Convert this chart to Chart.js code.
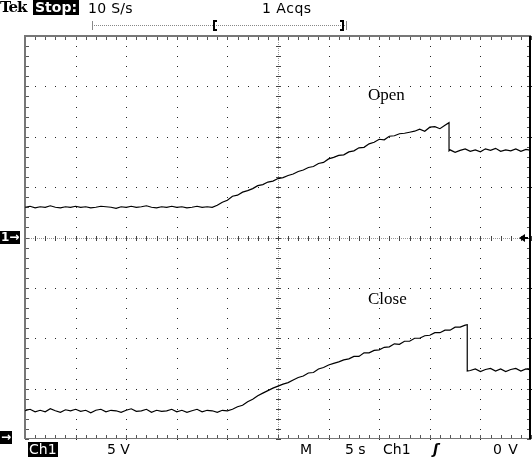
<!DOCTYPE html>
<html>
<head>
<meta charset="utf-8">
<script src="https://cdn.jsdelivr.net/npm/chart.js@4.4.0/dist/chart.umd.min.js"></script>
<style>
  html, body { margin: 0; padding: 0; background: #fff; }
  #wrap { position: relative; width: 532px; height: 457px; overflow: hidden;
          font-family: "DejaVu Sans", sans-serif; font-size: 14px; color: #000; }
  #scope { position: absolute; left: 0; top: 0; }
  .t { position: absolute; white-space: pre; line-height: 14px; }
  .inv { background: #000; color: #fff; }
  .serif { font-family: "Liberation Serif", serif; font-size: 17px; line-height: 17px; }
</style>
</head>
<body>
<div id="wrap">
  <canvas id="scope" width="532" height="457"></canvas>

  <!-- status bar -->
  <span class="t" style="left:0;top:0;font-weight:bold;font-family:'DejaVu Serif',serif;font-size:15px;line-height:15px;letter-spacing:-1px">Tek</span>
  <span class="t inv" style="left:33px;top:0;padding:0 2px;font-weight:bold;line-height:15px">Stop:</span>
  <span class="t" style="left:88px;top:1px;letter-spacing:0.3px">10 S/s</span>
  <span class="t" style="left:262px;top:1px;letter-spacing:0.5px">1 Acqs</span>

  <!-- trace labels -->
  <span class="t serif" style="left:368px;top:86px">Open</span>
  <span class="t serif" style="left:368px;top:290px">Close</span>

  <!-- ground markers -->
  <span class="t inv" style="left:0;top:231px;font-size:12px;line-height:13px;padding:0 1px;font-weight:bold">1→</span>
  <span class="t inv" style="left:0;top:431px;font-size:12px;line-height:13px;padding:0 1px;font-weight:bold">→</span>

  <!-- readout -->
  <span class="t inv" style="left:28px;top:442px;padding:0 1px;line-height:15px">Ch1</span>
  <span class="t" style="left:107px;top:442px">5 V</span>
  <span class="t" style="left:300px;top:442px">M</span>
  <span class="t" style="left:345px;top:442px">5 s</span>
  <span class="t" style="left:383px;top:442px">Ch1</span>
  <span class="t" style="left:433px;top:442px;font-style:italic;font-weight:bold">ʃ</span>
  <span class="t" style="left:493px;top:442px;letter-spacing:1px">0 V</span>
</div>

<script>
// sample times (s), 5 s/div, 10 div
const sampleTimes = [
  0, 0.5, 1, 1.5, 2, 2.5, 3, 3.5, 4, 4.5, 5, 5.5, 6, 6.5, 7, 7.5, 8, 8.5, 9, 9.5,
  10, 10.5, 11, 11.5, 12, 12.5, 13, 13.5, 14, 14.5, 15, 15.5, 16, 16.5, 17, 17.5, 18, 18.5, 19, 19.5,
  20, 20.5, 21, 21.5, 22, 22.5, 23, 23.5, 24, 24.5, 25, 25.5, 26, 26.5, 27, 27.5, 28, 28.5, 29, 29.5,
  30, 30.5, 31, 31.5, 32, 32.5, 33, 33.5, 34, 34.5, 35, 35.5, 36, 36.5, 37, 37.5, 38, 38.5, 39, 39.5,
  40, 40.5, 41, 41.5, 42, 42.5, 43, 43.5, 44, 44.5, 45, 45.5, 46, 46.5, 47, 47.5, 48, 48.5, 49, 49.5, 50
];

// Open trace (divisions from centre)
const openTimes = [...sampleTimes.slice(0, 84), 41.9, 41.9, ...sampleTimes.slice(84)];
const openValues = [
  0.60, 0.62, 0.59, 0.61, 0.60, 0.63, 0.60, 0.59, 0.61, 0.60,
  0.62, 0.60, 0.61, 0.59, 0.60, 0.62, 0.61, 0.60, 0.58, 0.61,
  0.60, 0.62, 0.60, 0.61, 0.63, 0.60, 0.59, 0.61, 0.60, 0.62,
  0.60, 0.61, 0.59, 0.60, 0.62, 0.60, 0.61, 0.60,
  0.64, 0.70, 0.74, 0.82, 0.84, 0.90, 0.93, 0.97, 1.03, 1.05, 1.10, 1.12, 1.17, 1.19, 1.23, 1.26,
  1.31, 1.34, 1.39, 1.41, 1.47, 1.49, 1.56, 1.59, 1.63, 1.64,
  1.70, 1.72, 1.78, 1.79, 1.86, 1.89, 1.95, 1.94, 2.01, 2.02,
  2.06, 2.07, 2.09, 2.11, 2.15, 2.11, 2.19, 2.20, 2.16, 2.23,
  2.28, 1.72,
  1.74, 1.69, 1.73, 1.76, 1.71, 1.74, 1.70, 1.76, 1.73, 1.77, 1.71, 1.74, 1.72, 1.76, 1.71, 1.75, 1.73
];

// Close trace
const closeTimes = [...sampleTimes.slice(0, 88), 43.7, 43.7, ...sampleTimes.slice(88)];
const closeValues = [
  -3.44, -3.41, -3.46, -3.43, -3.46, -3.40, -3.44, -3.47, -3.42, -3.44,
  -3.41, -3.45, -3.43, -3.48, -3.43, -3.41, -3.46, -3.43, -3.44, -3.47,
  -3.43, -3.40, -3.45, -3.44, -3.41, -3.47, -3.43, -3.45, -3.44, -3.41,
  -3.46, -3.43, -3.47, -3.44, -3.41, -3.46, -3.43, -3.44, -3.47, -3.43,
  -3.44,
  -3.41, -3.36, -3.33, -3.26, -3.21, -3.14, -3.09, -3.04, -2.99, -2.95,
  -2.91, -2.88, -2.83, -2.78, -2.75, -2.69, -2.68, -2.61, -2.58,
  -2.53, -2.50, -2.47, -2.43, -2.41, -2.36, -2.36, -2.29, -2.29, -2.24,
  -2.23, -2.18, -2.17, -2.11, -2.12, -2.06, -2.06, -2.00, -2.00, -1.95,
  -1.94, -1.89, -1.89, -1.84, -1.84, -1.78, -1.78, -1.74,
  -1.73, -2.65,
  -2.64, -2.61, -2.66, -2.62, -2.60, -2.65, -2.61, -2.66, -2.62, -2.60, -2.65, -2.61, -2.63
];

const xDivs = [0, 5, 10, 15, 20, 25, 30, 35, 40, 45, 50];
const yDivs = [-4, -3, -2, -1, 0, 1, 2, 3, 4];

function pts(ts, vs) {
  return ts.map((t, i) => ({ x: t, y: vs[i] }));
}

// oscilloscope graticule
const graticule = {
  id: 'graticule',
  beforeDatasetsDraw(chart) {
    const { ctx, chartArea: a, scales: { x, y } } = chart;
    ctx.save();
    const xMinor = [], yMinor = [];
    for (let i = 0; i <= 50; i++) xMinor.push(Math.round(x.getPixelForValue(i)));
    for (let i = 0; i <= 40; i++) yMinor.push(Math.round(y.getPixelForValue(-4 + i * 0.2)));

    // dotted division lines
    ctx.fillStyle = '#222';
    xDivs.slice(1, -1).forEach(v => {
      if (v === 25) return;
      const px = Math.round(x.getPixelForValue(v));
      yMinor.forEach(py => ctx.fillRect(px, py, 1, 1));
    });
    yDivs.slice(1, -1).forEach(v => {
      if (v === 0) return;
      const py = Math.round(y.getPixelForValue(v));
      xMinor.forEach(px => ctx.fillRect(px, py, 1, 1));
    });

    // centre axes
    const cx = Math.round(x.getPixelForValue(25));
    const cy = Math.round(y.getPixelForValue(0));
    ctx.fillStyle = '#999';
    for (let py = a.top; py < a.bottom; py += 2) ctx.fillRect(cx, py, 1, 1);
    for (let px = a.left; px < a.right; px += 2) ctx.fillRect(px, cy, 1, 1);
    ctx.fillStyle = '#444';
    yMinor.forEach(py => ctx.fillRect(cx - 2, py, 5, 1));
    xMinor.forEach(px => ctx.fillRect(px, cy - 2, 1, 5));

    // edge ticks
    ctx.fillStyle = '#555';
    xMinor.forEach(px => {
      ctx.fillRect(px, a.top, 1, 4);
      ctx.fillRect(px, a.bottom - 4, 1, 4);
    });
    yMinor.forEach(py => {
      ctx.fillRect(a.left, py, 4, 1);
      ctx.fillRect(a.right - 4, py, 4, 1);
    });

    // frame
    ctx.strokeStyle = '#777';
    ctx.lineWidth = 2;
    ctx.beginPath();
    ctx.moveTo(a.left, a.bottom);
    ctx.lineTo(a.left, a.top);
    ctx.lineTo(a.right, a.top);
    ctx.stroke();
    ctx.lineWidth = 1;
    ctx.beginPath();
    ctx.moveTo(a.left, a.bottom - 0.5);
    ctx.lineTo(a.right, a.bottom - 0.5);
    ctx.stroke();
    ctx.strokeStyle = '#000';
    ctx.lineWidth = 2;
    ctx.beginPath();
    ctx.moveTo(a.right - 1, a.top);
    ctx.lineTo(a.right - 1, a.bottom);
    ctx.stroke();

    // record bar
    ctx.strokeStyle = '#888';
    ctx.lineWidth = 1;
    ctx.setLineDash([1, 1]);
    ctx.beginPath();
    ctx.moveTo(92, 25.5);
    ctx.lineTo(346, 25.5);
    ctx.stroke();
    ctx.setLineDash([]);
    ctx.fillStyle = '#888';
    ctx.fillRect(92, 21, 1, 9);
    ctx.fillRect(346, 21, 1, 9);
    ctx.fillStyle = '#000';
    ctx.fillRect(213, 20, 2, 11);
    ctx.fillRect(213, 20, 4, 2);
    ctx.fillRect(213, 29, 4, 2);
    ctx.fillRect(342, 20, 2, 11);
    ctx.fillRect(340, 20, 4, 2);
    ctx.fillRect(340, 29, 4, 2);

    // trigger level arrow
    ctx.beginPath();
    ctx.moveTo(519, cy);
    ctx.lineTo(525, cy - 4);
    ctx.lineTo(525, cy + 4);
    ctx.closePath();
    ctx.fill();
    ctx.fillRect(524, cy - 1, 4, 2);
    ctx.restore();
  }
};

new Chart(document.getElementById('scope'), {
  type: 'line',
  data: {
    datasets: [
      { label: 'Open', data: pts(openTimes, openValues) },
      { label: 'Close', data: pts(closeTimes, closeValues) }
    ]
  },
  options: {
    responsive: false,
    animation: false,
    parsing: false,
    layout: { padding: { left: 25, right: 1, top: 36, bottom: 18 } },
    elements: {
      line: { borderColor: '#000', borderWidth: 1.2, tension: 0 },
      point: { radius: 0 }
    },
    scales: {
      x: { type: 'linear', min: 0, max: 50, display: false },
      y: { type: 'linear', min: -4, max: 4, display: false }
    },
    plugins: { legend: { display: false }, tooltip: { enabled: false } }
  },
  plugins: [graticule]
});
</script>
</body>
</html>
